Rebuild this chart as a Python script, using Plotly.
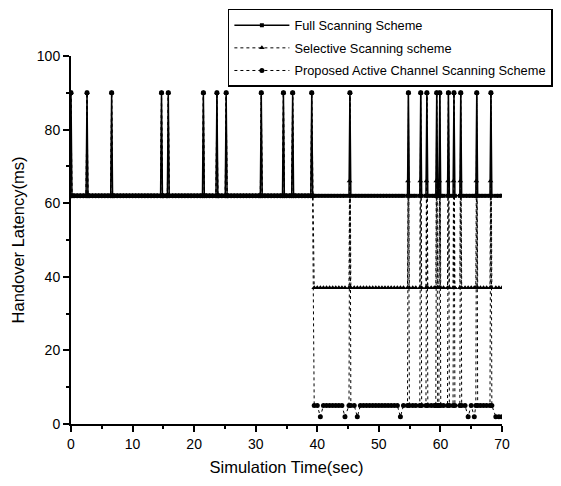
import numpy as np
import plotly.graph_objects as go

# ---- data ----
series_names = ["Full Scanning Scheme", "Selective Scanning scheme",
                "Proposed Active Channel Scanning Scheme"]
# times (sec) where the latency peaks at 90 ms
spike_times = [0.0, 2.6, 6.6, 14.7, 15.8, 21.5, 23.7, 25.2, 30.9, 34.5, 36.0, 39.1,
               45.3, 54.8, 56.8, 57.8, 59.4, 59.9, 61.3, 62.2, 63.3, 65.9, 68.2]
spike_value = 90
switch_time = 39.3          # scheme change time
level_before = 62           # all schemes before switch
full_level_after = 62
selective_level_after = 37
selective_rise_value = 66   # intermediate point on rise
proposed_level_after = 5
proposed_dip_value = 2
proposed_dip_times = [40.5, 44.5, 45.0, 46.5, 53.5, 64.5, 65.5, 68.0, 69.0, 69.5, 70.0]
sample_times = [i * 0.5 for i in range(141)]   # sampling grid 0..70 s
spike_half_width = 0.15


def level_at(t, level_after, dips=None, dip_val=None):
    if t < switch_time:
        return level_before
    if dips and any(abs(t - d) < 0.01 for d in dips):
        return dip_val
    return level_after


def build(level_after, dips=None, dip_val=None, rise=None):
    pts = []
    for t in sample_times:
        if any(abs(t - s) < 0.3 for s in spike_times):
            continue
        pts.append((t, level_at(t, level_after, dips, dip_val)))
    for s in spike_times:
        pts.append((s, spike_value))
        if s - spike_half_width >= 0:
            pts.append((s - spike_half_width, level_at(s - spike_half_width, level_after)))
        pts.append((s + spike_half_width, level_at(s + spike_half_width, level_after)))
        if rise is not None and s > switch_time:
            pts.append((s - 0.07, rise))
    pts.sort()
    return [p[0] for p in pts], [p[1] for p in pts]


fx, fy = build(full_level_after)
sx, sy = build(selective_level_after, rise=selective_rise_value)
px, py = build(proposed_level_after, proposed_dip_times, proposed_dip_value)

fig = go.Figure()
fig.add_trace(go.Scatter(x=fx, y=fy, mode="lines+markers", name=series_names[0],
                         legendgroup="a",
                         line=dict(color="black", width=1.5),
                         marker=dict(symbol="square", size=4, color="black")))
fig.add_trace(go.Scatter(x=sx, y=sy, mode="lines+markers", name=series_names[1],
                         legendgroup="b",
                         line=dict(color="black", width=1, dash="dot"),
                         marker=dict(symbol="triangle-up", size=5, color="black")))
fig.add_trace(go.Scatter(x=px, y=py, mode="lines+markers", name=series_names[2],
                         legendgroup="c",
                         line=dict(color="black", width=1, dash="dot"),
                         marker=dict(symbol="circle", size=5, color="black")))

font = "Liberation Sans, Arial, sans-serif"
fig.update_layout(
    width=553, height=478,
    margin=dict(l=63, r=59, t=48, b=62, autoexpand=False),
    plot_bgcolor="white", paper_bgcolor="white",
    font=dict(family=font, size=14, color="black"),
    showlegend=True,
    legend=dict(x=0.364, y=1.128, xanchor="left", yanchor="top",
                bordercolor="black", borderwidth=1.5, bgcolor="white",
                font=dict(size=12.8), itemwidth=55, tracegroupgap=3),
    xaxis=dict(range=[0, 70], tickvals=[0, 10, 20, 30, 40, 50, 60, 70],
               ticks="outside", ticklen=6, tickwidth=1.5, tickcolor="black",
               minor=dict(dtick=5, ticks="outside", ticklen=3, tickwidth=1.5, tickcolor="black"),
               showline=True, linecolor="black", linewidth=2, showgrid=False, zeroline=False,
               title=dict(text="Simulation Time(sec)", font=dict(size=16.5), standoff=11),
               tickfont=dict(size=14)),
    yaxis=dict(range=[0, 100], tickvals=[0, 20, 40, 60, 80, 100],
               ticks="outside", ticklen=6, tickwidth=1.5, tickcolor="black",
               minor=dict(dtick=10, ticks="outside", ticklen=3, tickwidth=1.5, tickcolor="black"),
               showline=True, linecolor="black", linewidth=2, showgrid=False, zeroline=False,
               title=dict(text="Handover Latency(ms)", font=dict(size=16.5), standoff=8),
               tickfont=dict(size=14)),
)
fig.write_html("out.html")
